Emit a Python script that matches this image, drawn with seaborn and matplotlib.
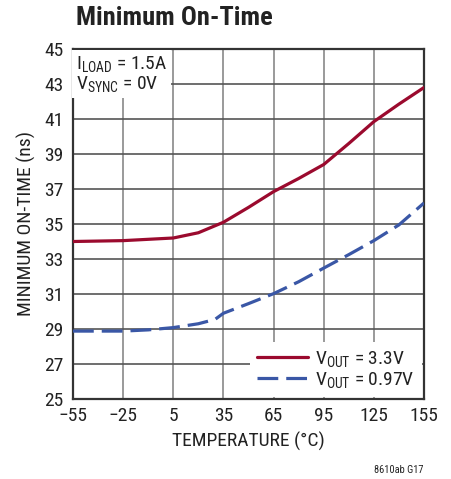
import matplotlib
matplotlib.use("Agg")
import matplotlib.pyplot as plt
import seaborn as sns
import pandas as pd

# valori
temp_33 = [-55, -25, 5, 20, 35, 50, 65, 80, 95, 110, 125, 140, 155]
ton_33 = [34.0, 34.05, 34.2, 34.5, 35.1, 35.95, 36.85, 37.6, 38.4, 39.6, 40.85, 41.85, 42.8]
temp_097 = [-55, -25, -10, 5, 20, 30, 35, 50, 65, 80, 95, 110, 125, 140, 155]
ton_097 = [28.88, 28.88, 28.95, 29.08, 29.3, 29.55, 29.9, 30.45, 31.02, 31.7, 32.48, 33.25, 34.05, 34.95, 36.2]

xticks = [-55, -25, 5, 35, 65, 95, 125, 155]
xticklabels = ["\u221255", "\u221225", "5", "35", "65", "95", "125", "155"]
yticks = list(range(25, 46, 2))

RED = "#9b0a2e"
BLUE = "#3a57a6"
TXT = "#222222"
FS = 14

df = pd.concat([
    pd.DataFrame({"temp": temp_33, "ton": ton_33, "serie": "3.3"}),
    pd.DataFrame({"temp": temp_097, "ton": ton_097, "serie": "0.97"}),
])

sns.set_style("white")
plt.rcParams["font.family"] = ["Roboto Condensed", "DejaVu Sans"]
plt.rcParams["mathtext.fontset"] = "custom"
plt.rcParams["mathtext.rm"] = "Roboto Condensed"
plt.rcParams["mathtext.it"] = "Roboto Condensed"

fig = plt.figure(figsize=(4.51, 4.79), dpi=100)
ax = fig.add_axes([73 / 451, 1 - 399 / 479, 351 / 451, 350 / 479])

ax.set_xticks(xticks)
ax.set_yticks(yticks)
ax.xaxis.grid(True, color="#9a9a9a", linewidth=1.4)
ax.yaxis.grid(True, color="#555555", linewidth=1.2)
ax.set_axisbelow(True)

sns.lineplot(data=df, x="temp", y="ton", hue="serie", style="serie",
             palette={"3.3": RED, "0.97": BLUE},
             dashes={"3.3": "", "0.97": (6.5, 2.5)}, linewidth=2.3,
             legend=False, ax=ax, zorder=3)

ax.set_xlim(-55, 155)
ax.set_ylim(25, 45)
ax.set_xticklabels(xticklabels, fontsize=FS)
ax.set_yticklabels([str(v) for v in yticks], fontsize=FS)
ax.tick_params(length=0, colors=TXT)
ax.tick_params(axis="x", pad=6)
ax.tick_params(axis="y", pad=7)
for s in ax.spines.values():
    s.set_color("#333333")
    s.set_linewidth(1.6)

ax.set_xlabel("TEMPERATURE (\u00b0C)", fontsize=FS, color=TXT, labelpad=5)
ax.set_ylabel("MINIMUM ON-TIME (ns)", fontsize=FS, color=TXT)
ax.yaxis.set_label_coords(-0.105, 0.5)

ax.text(0.008, 0.985, "$\\mathregular{I_{LOAD}}$ = 1.5A\n$\\mathregular{V_{SYNC}}$ = 0V",
        transform=ax.transAxes, va="top", ha="left", fontsize=FS, color=TXT,
        linespacing=1.0, zorder=5,
        bbox=dict(facecolor="white", edgecolor="none", pad=3))

h1, = ax.plot([], [], color=RED, linewidth=2.3)
h2, = ax.plot([], [], color=BLUE, linewidth=2.3, dashes=(6.5, 2.5))
leg = ax.legend([h1, h2], ["$\\mathregular{V_{OUT}}$ = 3.3V", "$\\mathregular{V_{OUT}}$ = 0.97V"],
                loc="lower right", bbox_to_anchor=(1.0, 0.0), fontsize=FS,
                frameon=True, fancybox=False, handlelength=2.6, handletextpad=0.4,
                labelspacing=0.05, borderpad=0.35, borderaxespad=0.12)
for t in leg.get_texts():
    t.set_color(TXT)
leg.get_frame().set_edgecolor("none")
leg.get_frame().set_alpha(1)
leg.set_zorder(6)

fig.text(76 / 451, 1 - 18 / 479, "Minimum On-Time", fontsize=19, fontweight="bold",
         color=TXT, va="center", ha="left")
fig.text(423 / 451, 1 - 470 / 479, "8610ab G17", fontsize=7.5, color=TXT,
         va="center", ha="right")

fig.savefig("out.png", dpi=100)
